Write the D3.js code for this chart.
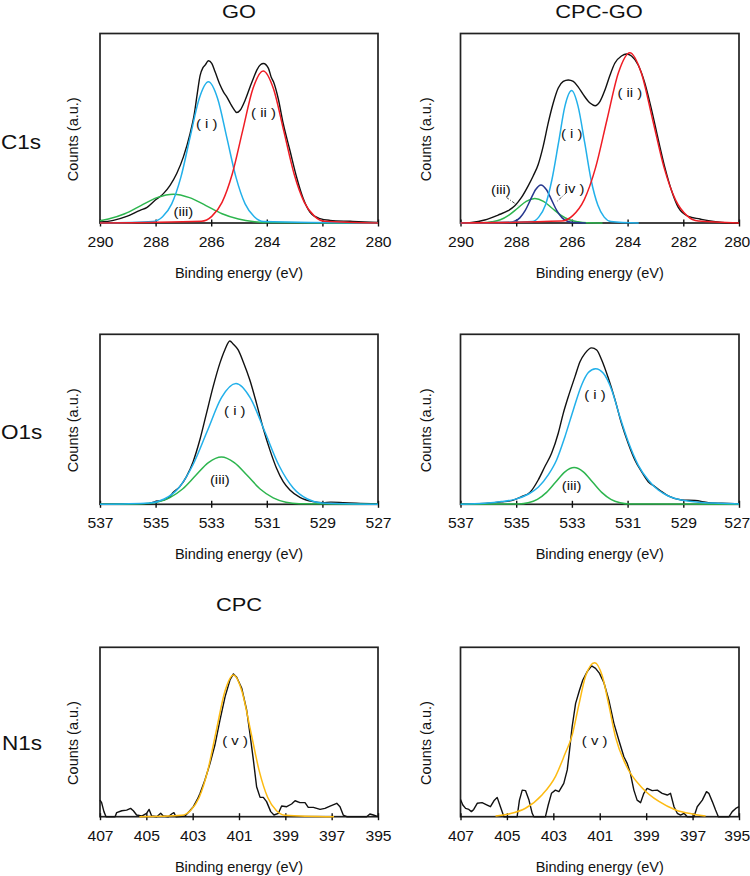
<!DOCTYPE html>
<html>
<head>
<meta charset="utf-8">
<script src="https://cdn.jsdelivr.net/npm/d3@7/dist/d3.min.js"></script>
<style>
body { margin: 0; background: #fff; }
text { font-family: "Liberation Sans", Arial, sans-serif; fill: #111; }
</style>
</head>
<body>
<svg id="fig" width="750" height="876"></svg>
<script>
// tick values (binding energy, eV)
var c1sTicks = [290, 288, 286, 284, 282, 280];
var o1sTicks = [537, 535, 533, 531, 529, 527];
var n1sTicks = [407, 405, 403, 401, 399, 397, 395];

// ---- C1s, GO  [energy, counts (0-100 of frame)] ----
var goC1sBlack = [[290,0.5],[289.52,1.4],[289.04,3.5],[288.56,6.7],[288.32,8.1],[288.02,12.0],[287.72,15.5],
  [287.48,19.9],[287.24,26.1],[287.0,34.9],[286.76,47.2],[286.62,56.5],[286.5,68.4],[286.4,77.8],[286.3,81.9],
  [286.22,83.3],[286.1,85.6],[285.98,84.2],[285.86,79.8],[285.68,72.8],[285.56,69.2],[285.44,66.6],[285.3,62.8],
  [285.2,60.4],[285.08,58.3],[284.96,59.5],[284.78,64.8],[284.6,71.9],[284.46,77.2],[284.36,80.7],[284.22,83.6],
  [284.12,84.2],[283.94,81.6],[283.84,76.9],[283.76,74.5],[283.59,65.7],[283.41,52.5],[283.17,38.4],[282.93,24.3],
  [282.69,12.9],[282.45,5.8],[282.09,2.3],[281.73,1.4],[281.0,0.9],[280.5,0.6],[280,0.3]];
var goC1sI = [[290,0],[288.1,0.8],[287.75,3.3],[287.42,10.1],[287.09,24.2],[286.76,45.2],[286.43,65.7],[286.1,74.5],
  [285.77,65.7],[285.44,45.2],[285.11,24.2],[284.78,10.1],[284.45,3.3],[284.12,0.8],[280,0]];
var goC1sII = [[290,0],[286.35,0.9],[285.98,3.5],[285.61,10.9],[285.24,26.0],[284.87,48.6],[284.5,70.8],[284.13,80.2],
  [283.76,70.8],[283.39,48.6],[283.02,26.0],[282.65,10.9],[282.28,3.5],[281.91,0.9],[280,0]];
var goC1sIII = [[290,1.2],[289.7,2.1],[289.11,4.9],[288.53,9.2],[287.95,13.4],[287.36,15.2],[286.78,13.4],[286.19,9.2],
  [285.61,4.9],[285.02,2.1],[284.44,0.7],[283.85,0.2],[280,0]];
var goC1sLabels = [["( i )",286.16,52.9],["( ii )",284.12,58.7],["(iii)",287.0,6.2]];

// ---- C1s, CPC-GO ----
var cpcgoC1sBlack = [[290,0],[289.6,0.3],[289.13,1.6],[288.65,4.2],[288.29,6.5],[288.05,9.1],[287.81,13.5],[287.57,19.6],
  [287.39,24.8],[287.21,30.9],[287.03,40.6],[286.85,52.8],[286.67,63.3],[286.49,71.2],[286.31,74.7],[286.13,75.5],
  [285.95,74.7],[285.77,71.7],[285.59,67.7],[285.35,63.3],[285.17,61.9],[284.99,64.2],[284.81,70.3],[284.63,78.1],
  [284.46,84.3],[284.22,88.1],[284.04,89.2],[283.86,88.1],[283.62,83.4],[283.38,73.8],[283.14,59.8],[282.9,44.1],
  [282.66,29.2],[282.42,17.0],[282.18,8.2],[281.82,3.5],[281.4,2.1],[281.1,1.2],[280.62,0.3],[280,0]];
var cpcgoC1sI = [[290,0],[287.42,0.8],[287.19,3.1],[286.95,9.5],[286.72,22.7],[286.48,42.4],[286.25,61.7],[286.01,69.9],
  [285.78,61.7],[285.54,42.4],[285.31,22.7],[285.07,9.5],[284.84,3.1],[284.6,0.8],[283.6,0]];
var cpcgoC1sII = [[290,0],[286.38,1.0],[285.97,3.9],[285.56,12.2],[285.15,29.2],[284.74,54.5],[284.33,79.3],[283.92,89.9],
  [283.51,79.3],[283.1,54.5],[282.69,29.2],[282.28,12.2],[281.87,3.9],[281.46,1.0],[280,0]];
var cpcgoC1sIII = [[289.8,0],[289.19,0.1],[288.88,0.6],[288.57,1.7],[288.26,4.2],[287.95,7.8],[287.64,11.4],[287.33,12.9],
  [287.02,11.4],[286.71,7.8],[286.4,4.2],[286.09,1.7],[285.78,0.6],[285.47,0.1],[284.9,0]];
var cpcgoC1sIV = [[290,0],[288.25,0.2],[288.06,0.9],[287.87,2.7],[287.68,6.5],[287.49,12.2],[287.3,17.7],[287.11,20.1],
  [286.92,17.7],[286.73,12.2],[286.54,6.5],[286.35,2.7],[286.16,0.9],[285.97,0.2],[285.5,0]];
var cpcgoC1sLabels = [["( i )",286.01,47.6],["( ii )",283.92,69],["(iii)",288.55,17.8],["( iv )",286.07,18.7]];
var cpcgoC1sLeaders = [[288.35,13.5,287.93,9.1],[286.19,16.1,286.55,11.2]];

// ---- O1s, GO ----
var goO1sBlack = [[537,0],[536,0.2],[535.32,0.2],[535.02,1.6],[534.72,2.5],[534.49,4.5],[534.37,6.9],[534.13,10.4],
  [533.89,16.3],[533.65,25.1],[533.41,37.8],[533.17,53.5],[532.93,69.2],[532.69,82.9],[532.51,90.8],[532.33,96.1],
  [532.21,94.3],[532.03,90.8],[531.85,83.9],[531.61,73.1],[531.37,59.4],[531.13,44.7],[530.89,32.0],[530.65,21.2],
  [530.41,13.3],[530.17,8.4],[529.81,4.1],[529.34,1.6],[528.98,1.0],[528.7,1.3],[528.26,1.0],[527.78,0.6],[527,0.2]];
var goO1sI = [[537,0],[535.2,0.8],[534.69,3.1],[534.17,9.6],[533.66,23.1],[533.14,43.1],[532.63,62.7],[532.11,71.0],
  [531.6,62.7],[531.08,43.1],[530.57,23.1],[530.05,9.6],[529.54,3.1],[529.02,0.8],[527,0]];
var goO1sIII = [[537,0],[535.42,0.3],[534.96,1.2],[534.5,3.8],[534.03,9.0],[533.56,16.9],[533.1,24.5],[532.63,27.8],
  [532.17,24.5],[531.7,16.9],[531.24,9.0],[530.77,3.8],[530.31,1.2],[529.84,0.3],[527,0]];
var goO1sLabels = [["( i )",532.15,55.5],["(iii)",532.69,14.9]];

// ---- O1s, CPC-GO ----
var cpcgoO1sBlack = [[537,0],[536.49,0.2],[536.01,0.6],[535.53,1.4],[535.17,2.2],[534.81,4.5],[534.51,6.9],[534.21,14.3],
  [533.97,22.2],[533.73,30.0],[533.49,41.8],[533.31,53.5],[533.13,63.3],[532.89,75.1],[532.71,83.9],[532.53,88.8],
  [532.29,92.0],[532.11,90.8],[531.93,84.9],[531.69,74.1],[531.45,61.4],[531.22,47.6],[530.98,35.9],[530.74,26.1],
  [530.5,19.2],[530.26,13.3],[530.02,10.4],[529.78,7.5],[529.54,4.9],[529.06,2.5],[528.58,2.2],[528.1,1.0],
  [527.62,0.6],[527,0.2]];
var cpcgoO1sI = [[537,0],[536.13,0.6],[535.53,1.6],[535.05,2.9],[534.57,5.9],[534.21,10.0],[533.85,17.3],[533.55,26.1],
  [533.25,39.8],[532.95,55.5],[532.65,70.2],[532.41,77.5],[532.15,79.8],[531.87,77.1],[531.57,67.3],[531.28,51.6],
  [530.98,36.9],[530.62,23.1],[530.26,14.3],[529.9,8.4],[529.54,4.9],[529.06,2.5],[528.46,1.2],[527.74,0.6],[527,0.2]];
var cpcgoO1sIII = [[537,0],[534.9,0.2],[534.57,0.9],[534.24,2.9],[533.91,7.0],[533.58,13.1],[533.25,19.1],[532.92,21.6],
  [532.59,19.1],[532.26,13.1],[531.93,7.0],[531.6,2.9],[531.27,0.9],[530.94,0.2],[527,0]];
var cpcgoO1sLabels = [["( i )",532.17,64.7],["(iii)",533.01,11.4]];

// ---- N1s, CPC ----
var cpcN1sBlack = [[407,9.8],[406.93,8.3],[406.83,3.0],[406.74,0],[406.35,0],[406.28,2.4],[406.06,3.5],[405.85,3.9],
  [405.68,4.9],[405.56,3.5],[405.42,1.0],[405.2,0.4],[404.99,2.0],[404.88,4.3],[404.77,0.4],[404.55,0],[404.38,2.0],
  [404.27,0.4],[404.05,0],[403.91,1.6],[403.81,2.4],[403.72,0],[403.33,0.4],[403.12,3.5],[402.97,5.9],[402.8,10.2],
  [402.68,13.8],[402.47,21.7],[402.25,31.5],[402.04,42.3],[401.82,57.1],[401.6,70.9],[401.39,80.7],[401.24,84.3],
  [401.1,82.3],[400.88,75.8],[400.67,63.0],[400.53,49.2],[400.38,33.5],[400.24,17.7],[400.09,11.4],[399.95,11.4],
  [399.81,8.9],[399.63,3.0],[399.49,1.0],[399.3,2.0],[399.16,6.3],[398.94,5.9],[398.73,7.5],[398.58,9.4],[398.37,8.3],
  [398.15,8.3],[398.01,5.5],[397.79,5.5],[397.5,4.3],[397.29,4.9],[397.07,6.3],[396.78,7.9],[396.64,5.9],[396.5,1.0],
  [396.35,0],[395.49,0],[395.35,1.6],[395.2,1.0],[395,0]];
var cpcN1sV = [[405.3,0],[403.46,0.9],[403.09,3.7],[402.72,11.3],[402.35,27.2],[401.98,50.8],[401.61,73.9],[401.24,83.7],
  [400.87,73.9],[400.5,50.8],[400.13,27.2],[399.76,11.3],[399.39,3.7],[399.02,0.9],[396.9,0]];
var cpcN1sLabels = [["( v )",401.17,45.3]];

// ---- N1s, CPC-GO ----
var cpcgoN1sBlack = [[407,10.2],[406.9,6.9],[406.78,4.9],[406.64,4.3],[406.53,3.0],[406.43,4.3],[406.28,7.9],[406.07,8.3],
  [405.85,6.9],[405.71,5.9],[405.56,9.4],[405.42,11.4],[405.28,5.9],[405.13,0],[404.56,0],[404.46,9.8],[404.34,15.7],
  [404.2,15.4],[404.05,9.8],[403.91,2.0],[403.84,0],[403.34,0],[403.22,6.9],[403.08,13.8],[402.91,15.7],[402.76,14.8],
  [402.55,19.7],[402.4,27.6],[402.3,39.4],[402.19,53.1],[402.04,66.9],[401.87,74.8],[401.73,80.7],[401.54,85.6],
  [401.35,89.0],[401.18,87.6],[401.01,84.6],[400.82,79.1],[400.61,68.9],[400.39,55.1],[400.18,45.3],[399.96,35.4],
  [399.82,31.5],[399.68,25.6],[399.53,15.7],[399.39,9.8],[399.24,8.3],[399.1,13.8],[398.96,16.7],[398.74,15.4],
  [398.52,15.7],[398.31,13.8],[398.09,12.8],[397.95,13.8],[397.8,5.9],[397.66,2.0],[397.52,1.0],[397.37,2.0],
  [397.23,0],[396.94,0],[396.8,5.9],[396.58,9.8],[396.4,14.8],[396.3,13.8],[396.15,8.9],[396.01,3.9],[395.89,0],
  [395.43,0],[395.29,3.0],[395.14,4.9],[395,5.9]];
var cpcgoN1sV = [[405.49,0.4],[404.92,1.6],[404.2,5],[403.48,13],[402.9,24],[402.5,37],[402.19,48],[401.9,66],
  [401.61,83],[401.22,90.9],[400.89,83],[400.61,66],[400.32,47],[399.89,31],[399.17,17],[398.45,9],[397.73,4],
  [397.01,1.6],[396.44,0.4]];
var cpcgoN1sLabels = [["( v )",401.22,45.3]];

var colors = { black: '#111', i: '#22b0ea', ii: '#ef1c24', iii: '#2db54e', iv: '#26378e', v: '#fdbb12' };

var cols = [{ x0: 100, x1: 378, cx: 78 }, { x0: 460.5, x1: 739, cx: 431 }];
var rows = [{ y0: 33.5, y1: 223 }, { y0: 334.3, y1: 504.3 }, { y0: 647.3, y1: 816.7 }];

var panels = [
  { row: 0, col: 0, ticks: c1sTicks, series: [['black', goC1sBlack], ['iii', goC1sIII], ['i', goC1sI], ['ii', goC1sII]], labels: goC1sLabels },
  { row: 0, col: 1, ticks: c1sTicks, series: [['black', cpcgoC1sBlack], ['iii', cpcgoC1sIII], ['iv', cpcgoC1sIV], ['i', cpcgoC1sI], ['ii', cpcgoC1sII]], labels: cpcgoC1sLabels, leaders: cpcgoC1sLeaders },
  { row: 1, col: 0, ticks: o1sTicks, series: [['black', goO1sBlack], ['iii', goO1sIII], ['i', goO1sI]], labels: goO1sLabels },
  { row: 1, col: 1, ticks: o1sTicks, series: [['black', cpcgoO1sBlack], ['iii', cpcgoO1sIII], ['i', cpcgoO1sI]], labels: cpcgoO1sLabels },
  { row: 2, col: 0, ticks: n1sTicks, series: [['black', cpcN1sBlack], ['v', cpcN1sV]], labels: cpcN1sLabels, jagged: true },
  { row: 2, col: 1, ticks: n1sTicks, series: [['black', cpcgoN1sBlack], ['v', cpcgoN1sV]], labels: cpcgoN1sLabels, jagged: true }
];

var svg = d3.select('#fig');

// horizontally widened text, like the source figure
function wideText(g, str, x, y, size, sx, anchor) {
  return g.append('text')
    .attr('transform', 'translate(' + x + ',' + y + ') scale(' + sx + ',1)')
    .attr('text-anchor', anchor || 'middle')
    .style('font-size', size + 'px')
    .text(str);
}

panels.forEach(function(p) {
  var c = cols[p.col], r = rows[p.row];
  var x = d3.scaleLinear().domain([p.ticks[0], p.ticks[p.ticks.length - 1]]).range([c.x0, c.x1]);
  var y = d3.scaleLinear().domain([0, 100]).range([r.y1, r.y0]);
  var g = svg.append('g');

  g.append('rect')
    .attr('x', c.x0).attr('y', r.y0)
    .attr('width', c.x1 - c.x0).attr('height', r.y1 - r.y0)
    .attr('fill', 'none').attr('stroke', '#222').attr('stroke-width', 1.7);

  var xG = g.append('g').attr('transform', 'translate(0,' + r.y1 + ')')
    .call(d3.axisBottom(x).tickValues(p.ticks).tickSize(7).tickFormat(d3.format('d')));
  xG.select('.domain').remove();
  xG.selectAll('.tick line').attr('y1', -3.5).attr('y2', 3.5).attr('stroke', '#111').attr('stroke-width', 1.4);
  xG.selectAll('.tick text')
    .attr('y', 24).attr('dy', null)
    .attr('x', function(d, i) { return (p.col === 1 && i === p.ticks.length - 1) ? -2 : 0; })
    .attr('fill', '#111')
    .attr('transform', 'scale(1.12,1)')
    .style('font-size', '14px')
    .style('font-family', '"Liberation Sans", Arial, sans-serif');

  var line = d3.line()
    .x(function(d) { return x(d[0]); })
    .y(function(d) { return y(d[1]); });

  p.series.forEach(function(s) {
    var isData = s[0] === 'black';
    line.curve(isData && p.jagged ? d3.curveLinear : d3.curveMonotoneX);
    g.append('path')
      .datum(s[1])
      .attr('d', line)
      .attr('fill', 'none')
      .attr('stroke', colors[s[0]])
      .attr('stroke-width', isData ? 1.4 : 1.5)
      .attr('stroke-linejoin', 'round');
  });

  (p.leaders || []).forEach(function(l) {
    g.append('line')
      .attr('x1', x(l[0])).attr('y1', y(l[1]))
      .attr('x2', x(l[2])).attr('y2', y(l[3]))
      .attr('stroke', '#333').attr('stroke-width', 0.9)
      .attr('stroke-dasharray', '3,1.5,1,1.5');
  });

  p.labels.forEach(function(l) {
    wideText(g, l[0], x(l[1]), y(l[2]) + 5, 13.5, 1.1);
  });

  g.append('text')
    .attr('text-anchor', 'middle')
    .attr('x', (c.x0 + c.x1) / 2).attr('y', r.y1 + 55)
    .style('font-size', '14.5px')
    .text('Binding energy (eV)');

  g.append('text')
    .attr('text-anchor', 'middle')
    .attr('transform', 'translate(' + c.cx + ',' + ((r.y0 + r.y1) / 2 + 11) + ') rotate(-90)')
    .style('font-size', '14.5px')
    .text('Counts (a.u.)');
});

// column titles and row labels
wideText(svg, 'GO', 239, 17.5, 17.5, 1.25);
wideText(svg, 'CPC-GO', 599, 17.5, 17.5, 1.25);
wideText(svg, 'CPC', 239, 610.5, 17.5, 1.25);
wideText(svg, 'C1s', 1, 148.5, 20.5, 1.1, 'start');
wideText(svg, 'O1s', 1, 438.5, 20.5, 1.1, 'start');
wideText(svg, 'N1s', 2, 750, 20.5, 1.1, 'start');
</script>
</body>
</html>
